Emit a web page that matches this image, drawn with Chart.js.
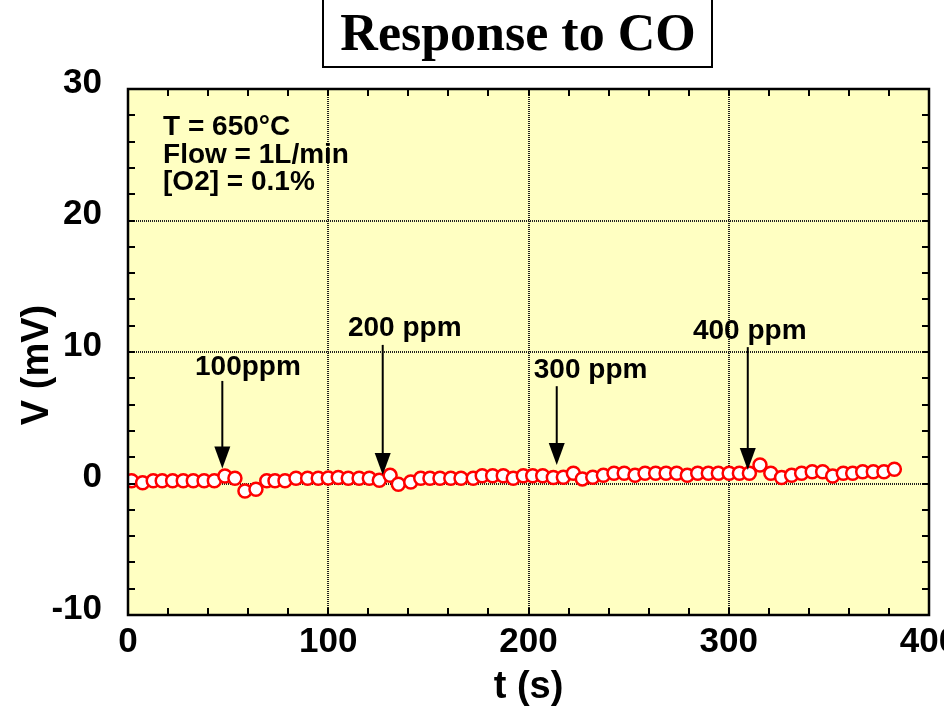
<!DOCTYPE html>
<html><head><meta charset="utf-8">
<script src="https://cdn.jsdelivr.net/npm/chart.js@4/dist/chart.umd.min.js"></script>
<style>html,body{margin:0;padding:0;background:#fff;}canvas{display:block;}</style>
</head><body>
<canvas id="c" width="944" height="708"></canvas>
<script>
// ---- data ----
const timeS = [1.8,7.3,12.6,17.1,22.3,27.6,32.6,38.0,43.1,48.4,53.4,58.4,63.9,69.3,73.4,78.4,83.9,89.7,95.0,100.0,105.0,110.0,115.4,120.5,125.5,130.9,135.0,
  141.2,146.2,150.8,155.8,161.2,166.3,172.4,176.9,182.1,187.4,192.4,197.4,202.1,207.1,212.4,217.4,222.4,226.9,232.1,237.4,242.7,247.8,253.2,258.2,263.5,268.7,
  274.0,279.3,284.5,289.8,294.8,300.2,305.3,310.3,315.6,321.0,326.4,331.4,336.4,341.7,346.9,351.9,357.2,361.9,366.9,372.2,377.5,382.7];
const voltageMV = [0.21,0.06,0.21,0.21,0.21,0.21,0.21,0.21,0.21,0.57,0.40,-0.57,-0.44,0.21,0.21,0.21,0.40,0.40,0.40,0.42,0.45,0.40,0.40,0.40,0.24,0.62,-0.06,
  0.12,0.40,0.40,0.40,0.40,0.40,0.40,0.59,0.59,0.59,0.40,0.59,0.59,0.59,0.46,0.48,0.78,0.35,0.48,0.62,0.78,0.78,0.62,0.78,0.78,0.78,
  0.78,0.62,0.78,0.78,0.78,0.78,0.78,0.78,1.41,0.78,0.46,0.62,0.78,0.90,0.90,0.57,0.78,0.78,0.90,0.90,0.90,1.08];
const xTickValues = [0,100,200,300,400];
const yTickValues = [-10,0,10,20,30];
const injectionLabels = ['100ppm','200 ppm','300 ppm','400 ppm'];
const injectionTimes = [47.1,127.2,214.1,309.5];
const conditionLines = ['T = 650°C','Flow = 1L/min','[O2] = 0.1%'];

// ---- annotation placement (data units) ----
const arrowTopV = [7.8,10.54,7.4,10.37];
const arrowTipV = [1.15,0.65,1.41,1.02];
const labelT = [59.9,138.2,231.0,310.5];
const labelV = [8.26,11.22,8.0,10.97];
const condT = 17.5, condV = [26.5,24.4,22.3];

const SANS = '"Liberation Sans", Arial, Helvetica, sans-serif';
const SERIF = '"Liberation Serif", "Times New Roman", serif';

const decor = {
  id: 'decor',
  beforeDraw(chart) {
    const {ctx, chartArea: a} = chart;
    ctx.save();
    ctx.fillStyle = '#ffffff';
    ctx.fillRect(0, 0, chart.width, chart.height);
    ctx.fillStyle = '#FFFFC2';
    ctx.fillRect(a.left, a.top, a.right - a.left, a.bottom - a.top);
    ctx.restore();
  },
  beforeDatasetsDraw(chart) {
    const {ctx, chartArea: a, scales: {x, y}} = chart;
    ctx.save();
    ctx.strokeStyle = '#222222';
    ctx.lineWidth = 2;
    ctx.setLineDash([1, 1]);
    xTickValues.slice(1, -1).forEach(v => {
      const px = Math.round(x.getPixelForValue(v));
      ctx.beginPath(); ctx.moveTo(px, a.top); ctx.lineTo(px, a.bottom); ctx.stroke();
    });
    yTickValues.slice(1, -1).forEach(v => {
      const py = Math.round(y.getPixelForValue(v));
      ctx.beginPath(); ctx.moveTo(a.left, py); ctx.lineTo(a.right, py); ctx.stroke();
    });
    ctx.restore();
  },
  afterDraw(chart) {
    const {ctx, chartArea: a, scales: {x, y}} = chart;
    ctx.save();
    // frame
    ctx.strokeStyle = '#000'; ctx.lineWidth = 2.5; ctx.setLineDash([]);
    ctx.strokeRect(a.left, a.top, a.right - a.left, a.bottom - a.top);
    // minor ticks (inward, all sides)
    ctx.lineWidth = 2;
    ctx.beginPath();
    for (let v = 20; v < 400; v += 20) {
      const px = Math.round(x.getPixelForValue(v));
      ctx.moveTo(px, a.bottom); ctx.lineTo(px, a.bottom - 7);
      ctx.moveTo(px, a.top); ctx.lineTo(px, a.top + 7);
    }
    for (let v = -8; v < 30; v += 2) {
      const py = Math.round(y.getPixelForValue(v));
      ctx.moveTo(a.left, py); ctx.lineTo(a.left + 7, py);
      ctx.moveTo(a.right, py); ctx.lineTo(a.right - 7, py);
    }
    ctx.stroke();
    // tick labels
    ctx.fillStyle = '#000';
    ctx.font = 'bold 35px ' + SANS;
    ctx.textAlign = 'right'; ctx.textBaseline = 'middle';
    yTickValues.forEach(v => ctx.fillText(String(v), a.left - 26, y.getPixelForValue(v) - 6));
    ctx.textAlign = 'center';
    xTickValues.forEach(v => ctx.fillText(String(v), x.getPixelForValue(v), a.bottom + 27));
    // axis titles
    ctx.font = 'bold 38px ' + SANS;
    ctx.fillText('t (s)', (a.left + a.right) / 2, 688);
    ctx.save();
    ctx.translate(38, 365); ctx.rotate(-Math.PI / 2);
    ctx.fillText('V (mV)', 0, 0);
    ctx.restore();
    // conditions text
    ctx.font = 'bold 28px ' + SANS;
    ctx.textAlign = 'left'; ctx.textBaseline = 'alphabetic';
    conditionLines.forEach((t, i) => ctx.fillText(t, x.getPixelForValue(condT), y.getPixelForValue(condV[i])));
    // arrows and labels
    ctx.textAlign = 'center';
    injectionTimes.forEach((t, i) => {
      const px = x.getPixelForValue(t);
      const top = y.getPixelForValue(arrowTopV[i]);
      const tip = y.getPixelForValue(arrowTipV[i]);
      const headLen = 22, headHalf = 8;
      ctx.lineWidth = 2;
      ctx.beginPath(); ctx.moveTo(px, top); ctx.lineTo(px, tip - headLen + 2); ctx.stroke();
      ctx.beginPath(); ctx.moveTo(px, tip); ctx.lineTo(px - headHalf, tip - headLen); ctx.lineTo(px + headHalf, tip - headLen); ctx.closePath(); ctx.fill();
      ctx.fillText(injectionLabels[i], x.getPixelForValue(labelT[i]), y.getPixelForValue(labelV[i]));
    });
    // title box
    ctx.fillStyle = '#fff';
    ctx.fillRect(323, -5, 389, 72);
    ctx.strokeStyle = '#000'; ctx.lineWidth = 2;
    ctx.strokeRect(323, -5, 389, 72);
    ctx.fillStyle = '#000';
    ctx.font = 'bold 52px ' + SERIF;
    ctx.textAlign = 'center'; ctx.textBaseline = 'alphabetic';
    ctx.fillText('Response to CO', 518, 50);
    ctx.restore();
  }
};

new Chart(document.getElementById('c'), {
  type: 'scatter',
  data: {
    datasets: [{
      data: timeS.map((t, i) => ({x: t, y: voltageMV[i]})),
      showLine: false,
      pointStyle: 'circle',
      pointRadius: 6.5,
      pointBorderWidth: 2.5,
      pointBorderColor: '#FF0000',
      pointBackgroundColor: '#FFFFFF'
    }]
  },
  options: {
    responsive: false,
    animation: false,
    events: [],
    layout: {padding: {left: 128, right: 15, top: 89, bottom: 93}},
    plugins: {legend: {display: false}, tooltip: {enabled: false}},
    scales: {
      x: {type: 'linear', min: 0, max: 400,
          ticks: {display: false}, grid: {display: false, drawTicks: false}, border: {display: false}, title: {display: false}},
      y: {type: 'linear', min: -10, max: 30,
          ticks: {display: false}, grid: {display: false, drawTicks: false}, border: {display: false}, title: {display: false}}
    }
  },
  plugins: [decor]
});
</script>
</body></html>
